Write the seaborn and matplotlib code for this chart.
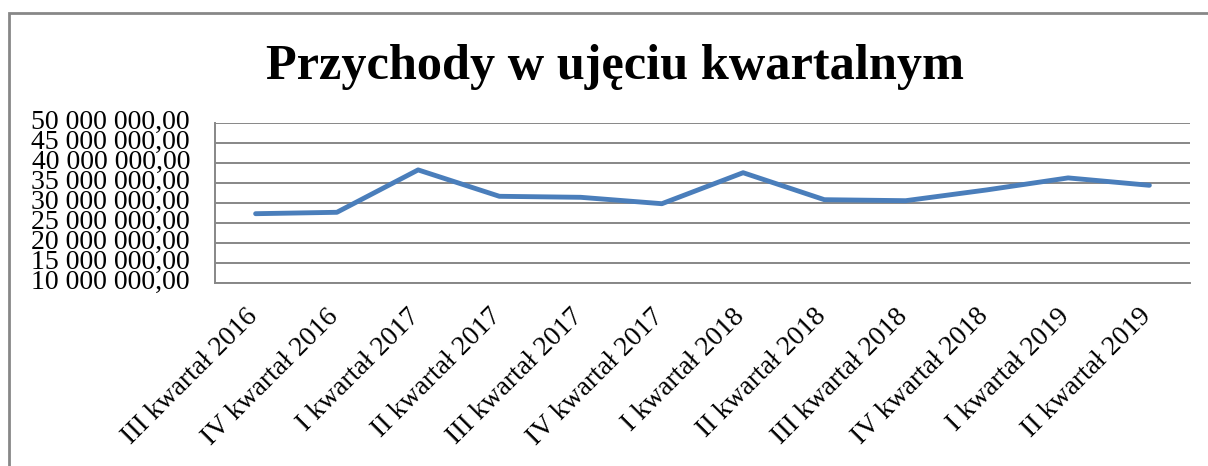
import matplotlib
matplotlib.use("Agg")
import matplotlib.pyplot as plt
import matplotlib.patches as patches
from matplotlib.transforms import ScaledTranslation
from matplotlib.ticker import FuncFormatter
import seaborn as sns
import pandas as pd

kwartaly = ["III kwartał 2016", "IV kwartał 2016", "I kwartał 2017", "II kwartał 2017",
            "III kwartał 2017", "IV kwartał 2017", "I kwartał 2018", "II kwartał 2018",
            "III kwartał 2018", "IV kwartał 2018", "I kwartał 2019", "II kwartał 2019"]
przychody = [27250000, 27600000, 38200000, 31600000, 31350000, 29750000,
             37500000, 30750000, 30500000, 33200000, 36200000, 34350000]
y_ticks = [10000000, 15000000, 20000000, 25000000, 30000000, 35000000,
           40000000, 45000000, 50000000]
tytul = "Przychody w ujęciu kwartalnym"

sns.set_theme(style="white")
plt.rcParams['font.family'] = ['Liberation Serif', 'DejaVu Serif']
plt.rcParams['text.color'] = 'black'

df = pd.DataFrame({"kwartal": kwartaly, "przychody": przychody})

fig = plt.figure(figsize=(12.08, 4.66), dpi=100)
ax = fig.add_axes([215/1208, 1-282.7/466, (1190-215)/1208, 160/466])

sns.lineplot(data=df, x="kwartal", y="przychody", sort=False, ax=ax,
             color="#4a7ebb", linewidth=3.5, solid_capstyle="round", solid_joinstyle="round")

ax.set_xlim(-0.5, len(kwartaly)-0.5)
ax.set_ylim(y_ticks[0], y_ticks[-1])
ax.set_yticks(y_ticks)
ax.yaxis.set_major_formatter(FuncFormatter(lambda v, p: f"{v:,.2f}".replace(",", " ").replace(".", ",")))
ax.grid(axis="y", color="#878787", linewidth=1.4)
ax.grid(axis="x", visible=False)
ax.set_axisbelow(True)
for s in ["top", "right"]:
    ax.spines[s].set_visible(False)
for s in ["left", "bottom"]:
    ax.spines[s].set_color("#878787")
    ax.spines[s].set_linewidth(1.4)
ax.set_xlabel("")
ax.set_ylabel("")
ax.tick_params(axis="y", length=0, pad=18, labelsize=20, colors="black")
ax.tick_params(axis="x", length=0, pad=0, labelsize=20, colors="black")
ax.set_xticks(range(len(kwartaly)))
ax.set_xticklabels(kwartaly, rotation=45, ha="right", va="center", rotation_mode="anchor")
off = ScaledTranslation(-2/100, -30/100, fig.dpi_scale_trans)
for lab in ax.get_xticklabels():
    lab.set_transform(lab.get_transform() + off)
for lab in ax.get_yticklabels():
    lab.set_verticalalignment("center")

fig.text(615/1208, 1-79/466, tytul, ha="center", va="baseline", fontsize=36.3,
         fontweight="bold", color="black")

fig.patches.append(patches.Rectangle((9/1208, -0.1), 1.2, 1.1 - 13/466,
                                     transform=fig.transFigure, fill=False,
                                     edgecolor="#878787", linewidth=2))

fig.savefig("out.png", dpi=100)
